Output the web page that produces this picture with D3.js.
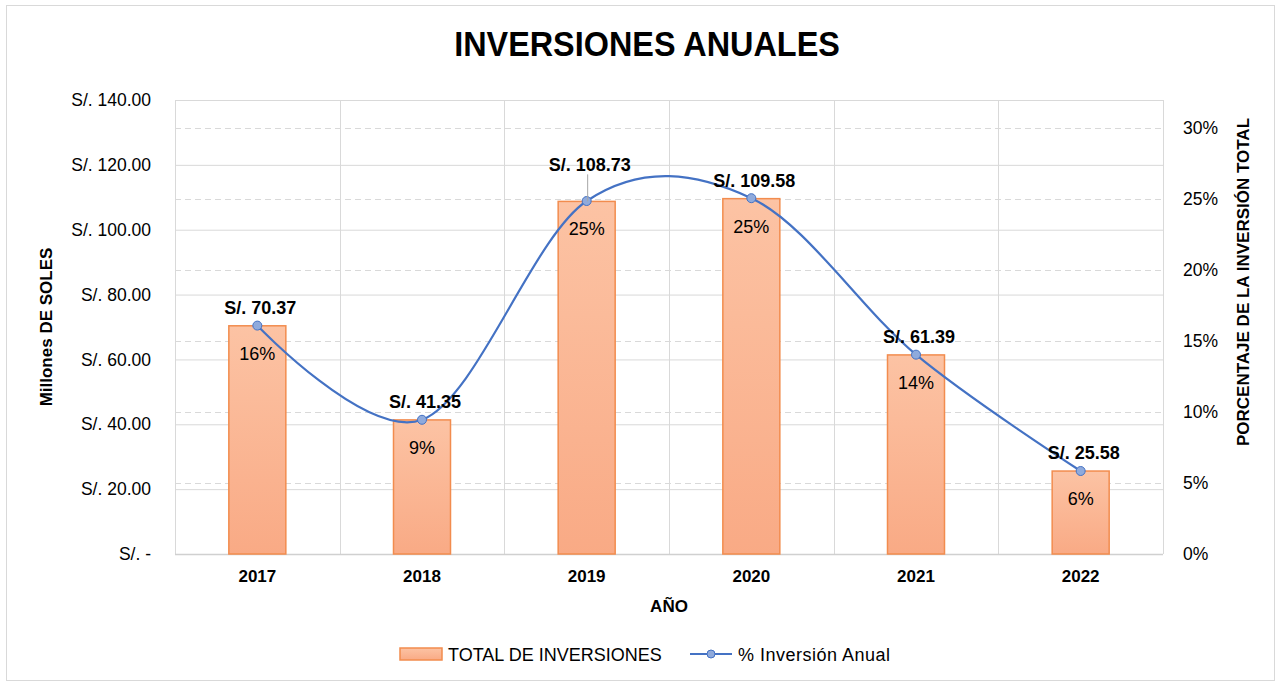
<!DOCTYPE html>
<html>
<head>
<meta charset="utf-8">
<script src="https://cdn.jsdelivr.net/npm/d3@7"></script>
<style>
  body { margin: 0; background: #fff; }
  svg text { font-family: "Liberation Sans Narrow", "Arial Narrow", "Liberation Sans", Arial, sans-serif; fill: #000; }
</style>
</head>
<body>
<svg id="chart"></svg>
<script>
// data
const years = ["2017", "2018", "2019", "2020", "2021", "2022"];
const totals = [70.37, 41.35, 108.73, 109.58, 61.39, 25.58];
const shares = [16.1, 9.46, 24.88, 25.08, 14.05, 5.85];
const leftTicks = [0, 20, 40, 60, 80, 100, 120, 140];
const rightTicks = [0, 5, 10, 15, 20, 25, 30];

const W = 1276, H = 684;
const margin = {top: 100, right: 113, bottom: 130, left: 175};
const width = W - margin.left - margin.right;
const height = H - margin.top - margin.bottom;

const svg = d3.select("#chart").attr("width", W).attr("height", H);

// outer frame
svg.append("rect")
   .attr("x", 6.5).attr("y", 5.5)
   .attr("width", W - 8).attr("height", H - 9)
   .attr("fill", "#fff").attr("stroke", "#d9d9d9");

const defs = svg.append("defs");
const grad = defs.append("linearGradient")
   .attr("id", "barGrad").attr("x1", 0).attr("y1", 0).attr("x2", 0).attr("y2", 1);
grad.append("stop").attr("offset", "0%").attr("stop-color", "#fcc3a4");
grad.append("stop").attr("offset", "100%").attr("stop-color", "#f9aa85");

svg.append("text")
   .attr("transform", "translate(647,56) scale(0.9,1)")
   .attr("text-anchor", "middle")
   .style("font-size", "36px").style("font-weight", "bold")
   .text("INVERSIONES ANUALES");

const chart = svg.append("g").attr("transform", `translate(${margin.left},${margin.top})`);

const x = d3.scaleBand().domain(years).range([0, width]);
const y = d3.scaleLinear().domain([0, 140]).range([height, 0]);
const y2 = d3.scaleLinear().domain([0, 32]).range([height, 0]);

// dashed grid for right axis
chart.append("g")
   .selectAll("line")
   .data(rightTicks.slice(1))
   .join("line")
     .attr("x1", 0).attr("x2", width)
     .attr("y1", d => Math.round(y2(d)) + 0.5).attr("y2", d => Math.round(y2(d)) + 0.5)
     .attr("stroke", "#d9d9d9").attr("stroke-dasharray", "6,4");

// solid grid for left axis
const yAxis = d3.axisLeft(y).tickValues(leftTicks).tickSize(-width).tickPadding(10)
   .tickFormat(d => d === 0 ? "S/.  -" : "S/. " + d3.format(".2f")(d));
const yAxisG = chart.append("g").call(yAxis);
yAxisG.select(".domain").remove();
yAxisG.selectAll(".tick line").attr("stroke", "#d9d9d9");
yAxisG.selectAll(".tick text").style("font-size", "17.5px").attr("dx", -14);

// vertical separators
chart.append("g")
   .selectAll("line")
   .data(d3.range(years.length + 1))
   .join("line")
     .attr("x1", i => Math.round(i * x.step()) + 0.5).attr("x2", i => Math.round(i * x.step()) + 0.5)
     .attr("y1", 0).attr("y2", height)
     .attr("stroke", "#d9d9d9");

chart.append("line")
   .attr("x1", 0).attr("x2", width).attr("y1", height + 0.5).attr("y2", height + 0.5)
   .attr("stroke", "#d0d0d0").attr("stroke-width", 1.5);

// right axis
const y2Axis = d3.axisRight(y2).tickValues(rightTicks).tickSize(0).tickPadding(20)
   .tickFormat(d => d + "%");
const y2G = chart.append("g").attr("transform", `translate(${width},0)`).call(y2Axis);
y2G.select(".domain").remove();
y2G.selectAll(".tick text").style("font-size", "17.5px");

// x axis
const xAxis = d3.axisBottom(x).tickSize(0).tickPadding(16);
const xG = chart.append("g").attr("transform", `translate(0,${height})`).call(xAxis);
xG.select(".domain").remove();
xG.selectAll(".tick text").style("font-size", "17px").style("font-weight", "bold");

// bars
const barW = 57;
chart.append("g")
   .selectAll("rect")
   .data(years)
   .join("rect")
     .attr("x", d => x(d) + x.bandwidth() / 2 - barW / 2)
     .attr("y", (d, i) => y(totals[i]))
     .attr("width", barW)
     .attr("height", (d, i) => height - y(totals[i]))
     .attr("fill", "url(#barGrad)")
     .attr("stroke", "#f28c4e").attr("stroke-width", 1.5);

// smooth line
const pts = years.map((d, i) => [x(d) + x.bandwidth() / 2, y2(shares[i])]);
chart.append("path")
   .datum(pts)
   .attr("d", d3.line().curve(d3.curveCatmullRom.alpha(0)))
   .attr("fill", "none").attr("stroke", "#4472c4").attr("stroke-width", 2.2);

chart.append("g")
   .selectAll("circle")
   .data(pts)
   .join("circle")
     .attr("cx", d => d[0]).attr("cy", d => d[1]).attr("r", 4.5)
     .attr("fill", "#8faadc").attr("stroke", "#4472c4").attr("stroke-width", 1);

// value labels (2019 label moved up with leader line)
const labelShift = [0, 0, -18, 0, 0, 0];
chart.append("line")
   .attr("x1", x("2019") + x.bandwidth() / 2 + 1).attr("x2", x("2019") + x.bandwidth() / 2 + 1)
   .attr("y1", y(totals[2]) - 27).attr("y2", y(totals[2]))
   .attr("stroke", "#a6a6a6").attr("stroke-width", 1);

chart.append("g")
   .selectAll("text")
   .data(years)
   .join("text")
     .attr("x", d => x(d) + x.bandwidth() / 2 + 3)
     .attr("y", (d, i) => y(totals[i]) - 12 + labelShift[i])
     .attr("text-anchor", "middle")
     .style("font-size", "18px").style("font-weight", "bold")
     .text((d, i) => "S/. " + d3.format(".2f")(totals[i]));

chart.append("g")
   .selectAll("text")
   .data(years)
   .join("text")
     .attr("x", d => x(d) + x.bandwidth() / 2)
     .attr("y", (d, i) => y(totals[i]) + 34)
     .attr("text-anchor", "middle")
     .style("font-size", "18px")
     .text((d, i) => Math.round(shares[i]) + "%");

// axis titles
svg.append("text")
   .attr("transform", "translate(52,327) rotate(-90)")
   .attr("text-anchor", "middle")
   .style("font-size", "17px").style("font-weight", "bold")
   .text("Millones DE SOLES");

svg.append("text")
   .attr("transform", "translate(1249,282) rotate(-90)")
   .attr("text-anchor", "middle")
   .style("font-size", "17px").style("font-weight", "bold")
   .text("PORCENTAJE DE LA INVERSIÓN TOTAL");

svg.append("text")
   .attr("x", 669).attr("y", 612)
   .attr("text-anchor", "middle")
   .style("font-size", "17px").style("font-weight", "bold")
   .text("AÑO");

// legend
const leg = svg.append("g").attr("transform", "translate(400,654)");
leg.append("rect").attr("x", 0).attr("y", -6).attr("width", 42).attr("height", 12)
   .attr("fill", "url(#barGrad)").attr("stroke", "#f28c4e").attr("stroke-width", 1.5);
leg.append("text").attr("x", 48).attr("y", 6.5).style("font-size", "18px").text("TOTAL DE INVERSIONES");
leg.append("line").attr("x1", 290).attr("x2", 332).attr("y1", 0).attr("y2", 0)
   .attr("stroke", "#4472c4").attr("stroke-width", 2.2);
leg.append("circle").attr("cx", 311).attr("cy", 0).attr("r", 4)
   .attr("fill", "#8faadc").attr("stroke", "#4472c4");
leg.append("text").attr("x", 338).attr("y", 6.5).style("font-size", "18px")
   .style("letter-spacing", "0.5px").text("% Inversión Anual");
</script>
</body>
</html>
